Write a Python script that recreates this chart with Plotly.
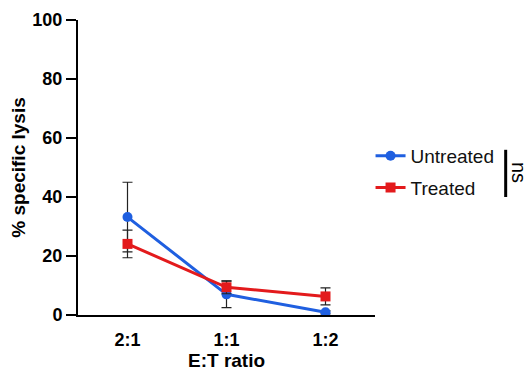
import plotly.graph_objects as go

categories = ["2:1", "1:1", "1:2"]
untreated = [33.2, 7.0, 0.9]
untreated_err = [11.8, 4.5, 0.5]
treated = [24.1, 9.4, 6.3]
treated_err = [4.7, 2.2, 2.9]
y_ticks = [0, 20, 40, 60, 80, 100]

BLUE = "#1f5fe0"
RED = "#e31a1c"
FONT = "Liberation Sans, Arial, sans-serif"

fig = go.Figure()
fig.add_trace(go.Scatter(
    x=categories, y=untreated, name="Untreated", mode="lines+markers",
    legendgroup="a",
    line=dict(color=BLUE, width=3),
    marker=dict(color=BLUE, size=10, symbol="circle"),
    error_y=dict(type="data", array=untreated_err, color="#222", thickness=1.2, width=5),
))
fig.add_trace(go.Scatter(
    x=categories, y=treated, name="Treated", mode="lines+markers",
    legendgroup="b",
    line=dict(color=RED, width=3),
    marker=dict(color=RED, size=10, symbol="square"),
    error_y=dict(type="data", array=treated_err, color="#222", thickness=1.2, width=5),
))

fig.update_layout(
    width=524, height=365,
    margin=dict(l=70, r=157, t=12, b=58),
    paper_bgcolor="white", plot_bgcolor="white",
    font=dict(family=FONT, color="black"),
    legend=dict(x=0.985, y=0.485, xanchor="left", yanchor="middle",
                font=dict(size=19, family=FONT, color="#111"),
                traceorder="grouped", tracegroupgap=4, itemwidth=30),
    showlegend=True,
)
fig.update_xaxes(
    type="category", range=[-0.5, 2.5], automargin=False,
    showline=True, linecolor="black", linewidth=2,
    ticks="outside", ticklen=7, tickcolor="rgba(0,0,0,0)",
    showgrid=False, zeroline=False,
    tickfont=dict(size=18, family=FONT, color="black", weight="bold"),
)
fig.update_yaxes(
    range=[0, 100], tickvals=y_ticks, automargin=False,
    showline=True, linecolor="black", linewidth=2,
    ticks="outside", ticklen=10, tickwidth=2, tickcolor="black",
    showgrid=False, zeroline=False,
    tickfont=dict(size=18, family=FONT, color="black", weight="bold"),
    title=dict(text="<b>% specific lysis</b>", font=dict(size=19, family=FONT), standoff=10),
)

# x-axis title
fig.add_annotation(text="<b>E:T ratio</b>", xref="paper", yref="paper", x=0.5, y=0,
                   xanchor="center", yanchor="middle", yshift=-45, showarrow=False,
                   font=dict(size=19, family=FONT, color="black"))

# significance bracket
fig.add_shape(type="line", xref="paper", yref="paper",
              x0=1.44, x1=1.44, y0=0.40, y1=0.56,
              line=dict(color="black", width=3))
fig.add_annotation(text="ns", xref="paper", yref="paper", x=1.485, y=0.485,
                   xanchor="center", yanchor="middle",
                   showarrow=False, textangle=90,
                   font=dict(size=20, family=FONT, color="black"))

fig.write_html("out.html")
